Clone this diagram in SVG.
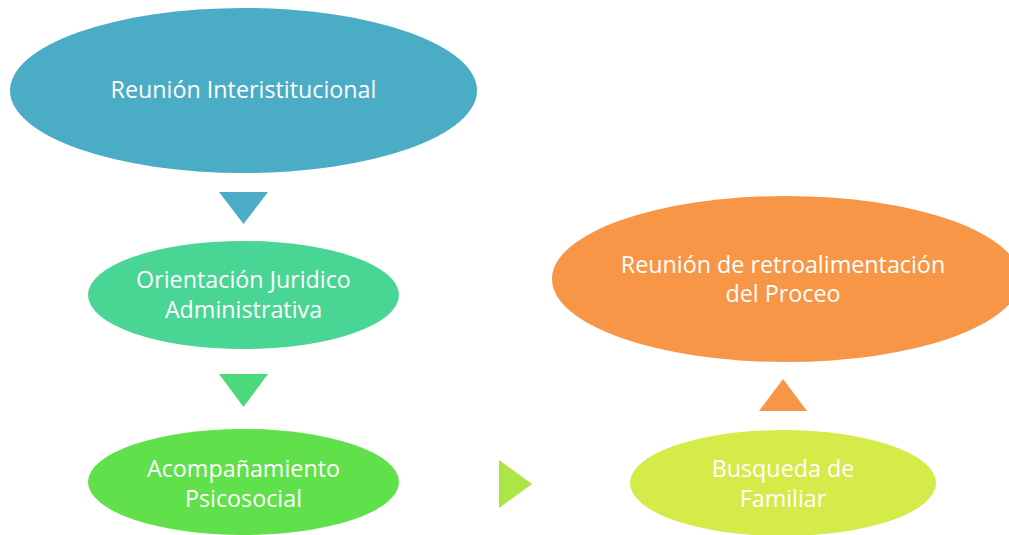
<svg xmlns="http://www.w3.org/2000/svg" width="1009" height="535" viewBox="0 0 1009 535">
<style>
text{font-family:"Open Sans","Noto Sans",sans-serif;font-size:23.3px;fill:#ffffff;text-anchor:middle}
</style>
<rect width="1009" height="535" fill="#ffffff"/>
<g id="node-reunion-inter">
<ellipse cx="243.5" cy="90.5" rx="233.5" ry="82.5" fill="#4BACC6"/>
<text x="243.5" y="98">Reunión Interistitucional</text>
</g>
<g id="node-orientacion">
<ellipse cx="243.5" cy="295" rx="155.5" ry="54" fill="#49D594"/>
<text x="243.5" y="288">Orientación Juridico</text>
<text x="243.5" y="318">Administrativa</text>
</g>
<g id="node-acompanamiento">
<ellipse cx="243.5" cy="482" rx="155.5" ry="53" fill="#60E04A"/>
<text x="243.5" y="477">Acompañamiento</text>
<text x="243.5" y="507">Psicosocial</text>
</g>
<g id="node-busqueda">
<ellipse cx="783" cy="483" rx="153" ry="53" fill="#D5EB4A"/>
<text x="783" y="477">Busqueda de</text>
<text x="783" y="507">Familiar</text>
</g>
<g id="node-retro">
<ellipse cx="786" cy="279" rx="234" ry="83" fill="#F79646"/>
<text x="783" y="273">Reunión de retroalimentación</text>
<text x="783" y="302">del Proceo</text>
</g>
<g id="connectors">
<polygon points="219,192 268,192 243.5,224" fill="#4BACC6"/>
<polygon points="219,374 268,374 243.5,407" fill="#4CD97C"/>
<polygon points="499,460 532,484 499,508" fill="#ABE645"/>
<polygon points="759,411 807,411 783,379" fill="#F79646"/>
</g>
</svg>
